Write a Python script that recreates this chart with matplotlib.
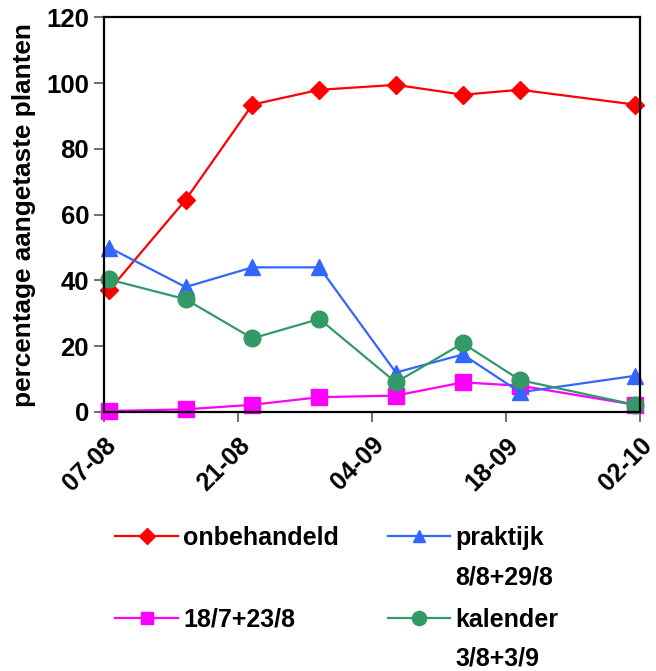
import matplotlib.pyplot as plt

plt.rcParams['font.family'] = ['Liberation Sans', 'DejaVu Sans']
plt.rcParams['font.weight'] = 'bold'

# days after 07-08
days = [0.5, 8.5, 15.5, 22.5, 30.5, 37.5, 43.5, 55.5]

onbehandeld = [37, 64.5, 93.5, 98, 99.5, 96.5, 98, 93.5]
spuit_18_7 = [0.3, 0.8, 2.2, 4.5, 5.0, 9.0, 8.0, 2.2]
praktijk = [50, 38, 44, 44, 12, 17.5, 6, 11]
kalender = [40.3, 34.3, 22.4, 28.3, 9.0, 20.9, 9.7, 2.2]

tick_days = [0, 14, 28, 42, 56]
tick_labels = ['07-08', '21-08', '04-09', '18-09', '02-10']

fig = plt.figure(figsize=(6.56, 6.71), dpi=100)
ax = fig.add_axes([0.159, 0.386, 0.816, 0.588])

l1, = ax.plot(days, onbehandeld, color='#ff0000', marker='D', ms=9.5, lw=1.6, clip_on=False)
l2, = ax.plot(days, spuit_18_7, color='#ff00ff', marker='s', ms=11, lw=1.6, clip_on=False)
l3, = ax.plot(days, praktijk, color='#3366ff', marker='^', ms=11, lw=1.6, clip_on=False)
l4, = ax.plot(days, kalender, color='#339966', marker='o', ms=12, lw=1.6, clip_on=False)

ax.set_xlim(0, 56)
ax.set_ylim(0, 120)
ax.set_xticks(tick_days)
ax.set_xticklabels(tick_labels, rotation=45, ha='right', rotation_mode='anchor')
ax.set_yticks(range(0, 121, 20))
ax.tick_params(axis='both', labelsize=18.5, length=7, width=1.2, color='#555555', pad=4)
ax.tick_params(axis='x', labelsize=18, pad=8)
for s in ax.spines.values():
    s.set_linewidth(1.6)

ax.set_ylabel('percentage aangetaste planten', fontsize=18.8, fontweight='bold', va='center')
ax.yaxis.set_label_coords(-0.15, 0.5)

leg = fig.legend([l1, l2, l3, l4], ['onbehandeld', '18/7+23/8', 'praktijk', 'kalender'],
                 ncol=2, loc='upper left', bbox_to_anchor=(0.176, 0.216), frameon=False,
                 fontsize=18, handlelength=2.5, handletextpad=0.2, columnspacing=1.95,
                 labelspacing=2.3, markerscale=0.85, borderaxespad=0, borderpad=0)

fig.canvas.draw()
inv = fig.transFigure.inverted()
for t, extra in zip(leg.get_texts(), ['', '', '8/8+29/8', '3/8+3/9']):
    if not extra:
        continue
    bb = t.get_window_extent()
    x0, y0 = inv.transform((bb.x0, bb.y0 - 39))
    fig.text(x0, y0, extra, fontsize=18, fontweight='bold', va='bottom', ha='left')

fig.savefig('out.png', dpi=100)
